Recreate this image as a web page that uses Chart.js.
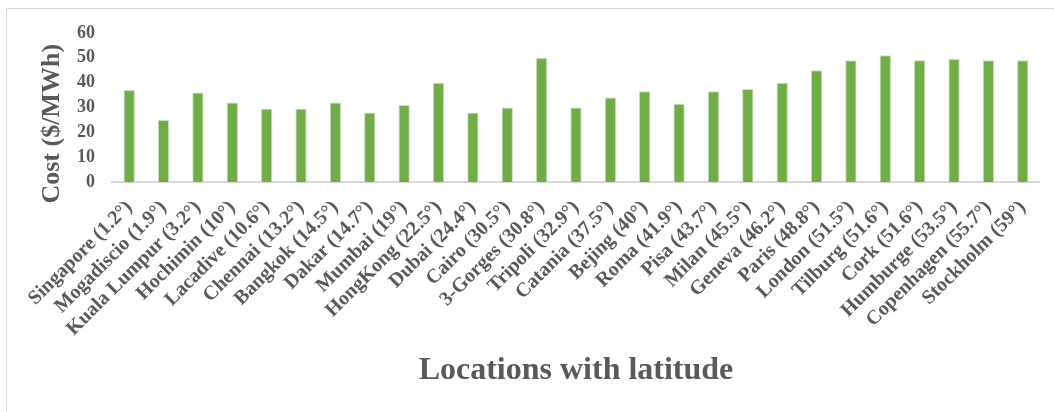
<!DOCTYPE html>
<html>
<head>
<meta charset="utf-8">
<script src="https://cdn.jsdelivr.net/npm/chart.js@4.4.1/dist/chart.umd.min.js"></script>
<style>
  html, body { margin: 0; padding: 0; background: #fff; overflow: hidden; }
  #wrap { width: 1054px; height: 412px; position: relative; }
  #frame { position: absolute; left: 6px; top: 8px; width: 1100px; height: 500px;
           border-left: 1px solid #d9d9d9; border-top: 1px solid #d9d9d9; }
  #myChart { position: absolute; left: 0; top: 0; }
</style>
</head>
<body>
<div id="wrap">
  <div id="frame"></div>
  <canvas id="myChart" width="1054" height="412"></canvas>
</div>
<script>
let locations = [
    'Singapore (1.2°)', 'Mogadiscio (1.9°)', 'Kuala Lumpur (3.2°)', 'Hochimin (10°)',
    'Lacadive (10.6°)', 'Chennai (13.2°)', 'Bangkok (14.5°)', 'Dakar (14.7°)',
    'Mumbai (19°)', 'HongKong (22.5°)', 'Dubai (24.4°)', 'Cairo (30.5°)',
    '3-Gorges (30.8°)', 'Tripoli (32.9°)', 'Catania (37.5°)', 'Bejing (40°)',
    'Roma (41.9°)', 'Pisa (43.7°)', 'Milan (45.5°)', 'Geneva (46.2°)',
    'Paris (48.8°)', 'London (51.5°)', 'Tilburg (51.6°)', 'Cork (51.6°)',
    'Humburge (53.5°)', 'Copenhagen (55.7°)', 'Stockholm (59°)'
];
let costs = [
    37, 25, 36, 32, 29.5, 29.5, 32, 28, 31, 40, 28, 30, 50, 30,
    34, 36.5, 31.5, 36.5, 37.5, 40, 45, 49, 51, 49, 49.5, 49, 49
];
let yTicks = [0, 10, 20, 30, 40, 50, 60];

const serif = '"Liberation Serif", "Times New Roman", serif';
const grey = '#595959';

let ctx = document.getElementById('myChart');

new Chart(ctx, {
    type: 'bar',
    data: {
        labels: locations,
        datasets: [{
            label: 'Cost',
            data: costs,
            backgroundColor: '#70ad47',
            borderColor: '#c5e0b4',
            borderWidth: 1,
            categoryPercentage: 1,
            barPercentage: 0.33
        }]
    },
    options: {
        responsive: false,
        animation: false,
        layout: {
            padding: { top: 33, right: 14, bottom: 0, left: 0 }
        },
        plugins: {
            legend: { display: false },
            tooltip: { enabled: false }
        },
        scales: {
            x: {
                grid: { display: false, drawTicks: false },
                border: { color: '#d9d9d9', width: 2 },
                ticks: {
                    color: grey,
                    font: { family: serif, size: 20, weight: 'bold' },
                    maxRotation: 45,
                    minRotation: 45,
                    autoSkip: false,
                    padding: 14
                },
                title: {
                    display: true,
                    text: 'Locations with latitude',
                    color: grey,
                    font: { family: serif, size: 32, weight: 'bold' },
                    padding: { top: 4, bottom: 22 }
                },
                afterFit: function (scale) {
                    scale.height = 230;
                }
            },
            y: {
                min: 0,
                max: 60,
                afterBuildTicks: function (scale) {
                    scale.ticks = yTicks.map(v => ({ value: v }));
                },
                grid: { display: false, drawTicks: false },
                border: { display: false },
                ticks: {
                    color: grey,
                    font: { family: serif, size: 18, weight: 'bold' },
                    padding: 17
                },
                title: {
                    display: true,
                    // trailing spaces nudge the centred title a bit lower, like the original
                    text: 'Cost ($/MWh)     ',
                    color: grey,
                    font: { family: serif, size: 26, weight: 'bold' },
                    padding: { top: 37, bottom: 0 }
                },
                afterFit: function (scale) {
                    scale.width = 112;
                }
            }
        }
    }
});
</script>
</body>
</html>
